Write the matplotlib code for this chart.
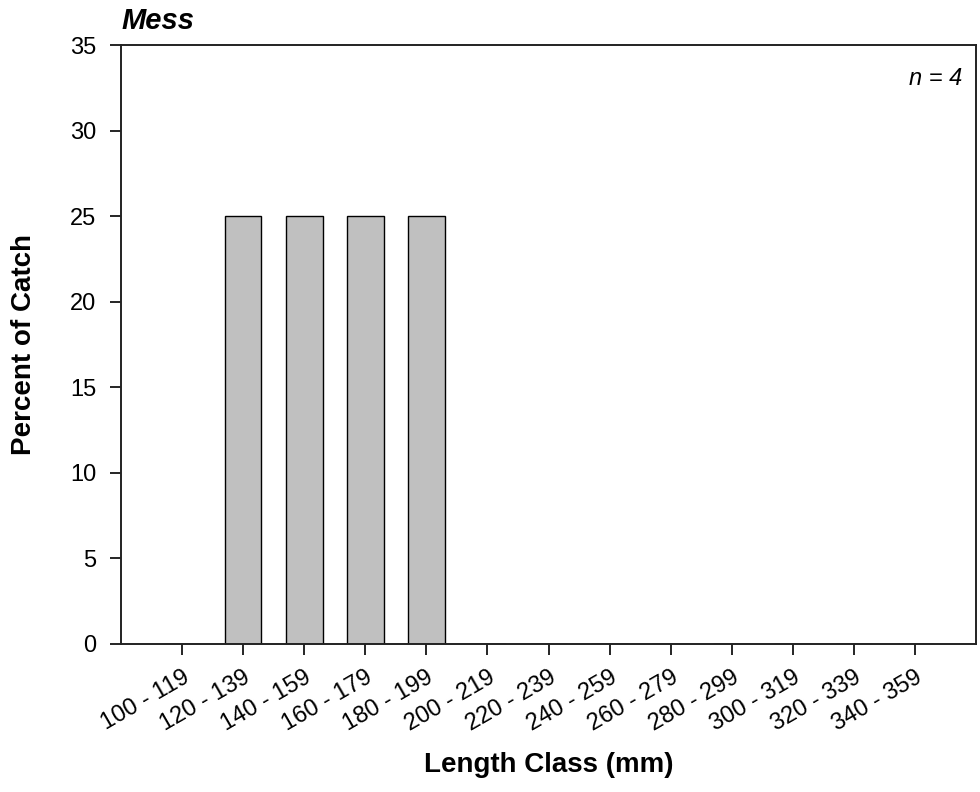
import matplotlib.pyplot as plt
import numpy as np

plt.rcParams['font.family'] = ['Liberation Sans', 'DejaVu Sans']

# length classes and percent of catch
classes = ['100 - 119', '120 - 139', '140 - 159', '160 - 179', '180 - 199',
           '200 - 219', '220 - 239', '240 - 259', '260 - 279', '280 - 299',
           '300 - 319', '320 - 339', '340 - 359']
percent = [0, 25, 25, 25, 25, 0, 0, 0, 0, 0, 0, 0, 0]
n_fish = 4
species = 'Mess'

fig = plt.figure(figsize=(9.8, 7.92), dpi=100)
ax = fig.add_axes([0.1235, 0.187, 0.8724, 0.7556])

x = np.arange(len(classes))
ax.bar(x, percent, width=0.6, color='#c0c0c0', edgecolor='black', linewidth=1.0)

ax.set_xlim(-1, len(classes))
ax.set_ylim(0, 35)
ax.set_yticks(range(0, 36, 5))
ax.set_xticks(x)
ax.set_xticklabels(classes, rotation=30, ha='right', rotation_mode='anchor')
ax.tick_params(axis='both', direction='out', length=8, width=1.2, labelsize=17)
ax.tick_params(axis='x', pad=8)
ax.tick_params(axis='y', pad=10)
for s in ax.spines.values():
    s.set_linewidth(1.4)
    s.set_color('#222222')

ax.set_xlabel('Length Class (mm)', fontsize=20, fontweight='bold')
ax.set_ylabel('Percent of Catch', fontsize=20, fontweight='bold')
ax.xaxis.set_label_coords(0.5, -0.18)
ax.yaxis.set_label_coords(-0.098, 0.5)
ax.text(0.001, 1.027, species, transform=ax.transAxes, fontsize=21,
        fontweight='bold', fontstyle='italic', ha='left', va='baseline')
ax.text(0.984, 0.945, f'n = {n_fish}', transform=ax.transAxes, fontsize=17,
        fontstyle='italic', ha='right', va='center')

fig.savefig('out.png', dpi=100)
